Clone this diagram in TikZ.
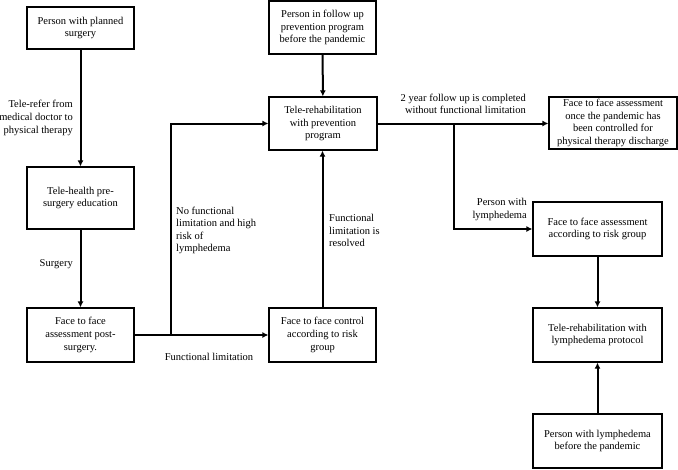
\documentclass[tikz,border=0pt]{standalone}
\usepackage{fontspec}
\setmainfont{Liberation Serif}
\usetikzlibrary{arrows.meta}
\begin{document}
\begin{tikzpicture}[x=1pt,y=-1pt,
  box/.style={draw=black, line width=1.2pt, align=center, inner sep=0pt,
    font=\fontsize{10.5}{12.6}\selectfont},
  lbl/.style={inner sep=0pt, font=\fontsize{10.5}{12.6}\selectfont},
  arr/.style={line width=2pt, -{Latex[length=6pt,width=6pt]}},
  ln/.style={line width=2pt}]
\useasboundingbox (0,0) rectangle (678,469);
\node[box, minimum width=107pt, minimum height=42pt] (A) at (80.5,28) {Person with planned\\surgery};
\node[box, minimum width=107pt, minimum height=62pt] (B) at (80.5,198) {Tele-health pre-\\surgery education};
\node[box, minimum width=107pt, minimum height=54pt] (C) at (80.5,335) {Face to face\\assessment post-\\surgery.};
\node[box, minimum width=107pt, minimum height=54pt] (D) at (322.5,335) {Face to face control\\according to risk\\group};
\node[box, minimum width=108pt, minimum height=53pt] (E) at (323,123.5) {Tele-rehabilitation\\with prevention\\program};
\node[box, minimum width=107pt, minimum height=53pt] (F) at (322.5,27.5) {Person in follow up\\prevention program\\before the pandemic};
\node[box, minimum width=128pt, minimum height=52pt] (G) at (613,123) {Face to face assessment\\once the pandemic has\\been controlled for\\physical therapy discharge};
\node[box, minimum width=129pt, minimum height=54pt] (H) at (597.5,229) {Face to face assessment\\according to risk group};
\node[box, minimum width=129pt, minimum height=54pt] (I) at (597.5,335) {Tele-rehabilitation with\\lymphedema protocol};
\node[box, minimum width=129pt, minimum height=54pt] (J) at (597.5,441) {Person with lymphedema\\before the pandemic};

\coordinate (j1) at (171,335);
\coordinate (j2) at (454,123.5);

\draw[arr] (A) -- (B);
\draw[arr] (B) -- (C);
\draw[arr] (C) -- (D);
\draw[arr] (j1) |- (E.west);
\draw[arr] (D.north) -- (D.north |- E.south);
\draw[arr] (F) -- (E);
\draw[arr] (E.east) -- (E.east -| G.west);
\draw[arr] (j2) |- (H.west);
\draw[arr] (H) -- (I);
\draw[arr] (J) -- (I);

\node[lbl, anchor=east, align=right] (l1) at (73,118) {Tele-refer from\\medical doctor to\\physical therapy};
\node[lbl, anchor=east, align=right] (l2) at (73,264) {Surgery};
\node[lbl] (l3) at (209,357) {Functional limitation};
\node[lbl, anchor=west, align=left] (l4) at (176,230.5) {No functional\\limitation and high\\risk of\\lymphedema};
\node[lbl, anchor=west, align=left] (l5) at (329,230.5) {Functional\\limitation is\\resolved};
\node[lbl, anchor=east, align=right] (l6) at (526,104) {2 year follow up is completed\\without functional limitation};
\node[lbl, anchor=east, align=right] (l7) at (527,209.5) {Person with\\lymphedema};
\end{tikzpicture}
\end{document}
